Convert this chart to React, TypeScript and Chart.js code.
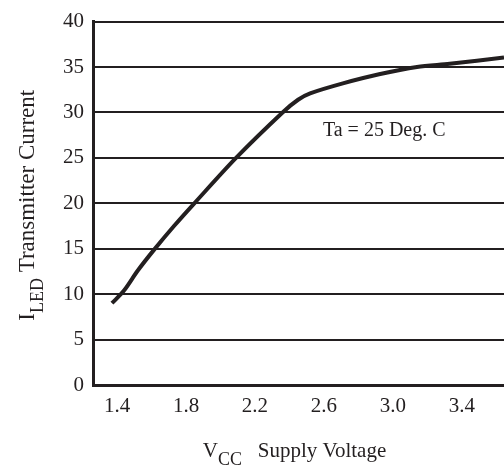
import React, { useEffect, useRef } from 'react';
import { Chart, registerables } from 'chart.js';

Chart.register(...registerables);

// Supply voltage (V) along the curve
const voltage = [1.37, 1.44, 1.52, 1.615, 1.73, 1.848, 2.09, 2.36, 2.45, 2.52, 2.71, 2.92, 3.14, 3.33, 3.645];
// Transmitter current (mA)
const current = [9.0, 10.4, 12.6, 14.9, 17.5, 20.0, 25.0, 30.0, 31.4, 32.1, 33.2, 34.2, 35.0, 35.35, 36.05];

const xTickValues = [1.4, 1.8, 2.2, 2.6, 3.0, 3.4];
const xMin = 1.26;
const xMax = 3.645;
const yMin = 0;
const yMax = 40;
const yStep = 5;

const annotationText = 'Ta = 25 Deg. C';
const annotationX = 2.95;
const annotationY = 27.4;

const xTitleParts = [
  { text: 'V', sub: false },
  { text: 'CC', sub: true },
  { text: '   Supply Voltage', sub: false },
];
const yTitleParts = [
  { text: 'I', sub: false },
  { text: 'LED', sub: true },
  { text: ' Transmitter Current', sub: false },
];

const INK = '#231f20';
const FONT = "'Liberation Serif', 'Times New Roman', serif";

function drawParts(ctx: CanvasRenderingContext2D, parts: { text: string; sub: boolean }[], mainSize: number, subSize: number, subDrop: number) {
  const widths = parts.map((p) => {
    ctx.font = `${p.sub ? subSize : mainSize}px ${FONT}`;
    return ctx.measureText(p.text).width;
  });
  const total = widths.reduce((a, b) => a + b, 0);
  let x = -total / 2;
  parts.forEach((p, i) => {
    ctx.font = `${p.sub ? subSize : mainSize}px ${FONT}`;
    ctx.fillText(p.text, x, p.sub ? subDrop : 0);
    x += widths[i];
  });
}

const overlayPlugin = {
  id: 'overlay',
  afterDraw(chart: any) {
    const { ctx, chartArea, scales } = chart;
    ctx.save();
    ctx.fillStyle = INK;
    ctx.textBaseline = 'alphabetic';
    ctx.textAlign = 'left';
    // annotation
    ctx.font = `20px ${FONT}`;
    const ax = scales.x.getPixelForValue(annotationX);
    const ay = scales.y.getPixelForValue(annotationY);
    const w = ctx.measureText(annotationText).width;
    ctx.fillText(annotationText, ax - w / 2, ay);
    // x title
    ctx.save();
    ctx.translate((chartArea.left + chartArea.right) / 2 - 4, chartArea.bottom + 72);
    drawParts(ctx, xTitleParts, 21, 18, 8);
    ctx.restore();
    // y title
    ctx.save();
    ctx.translate(34, (chartArea.top + chartArea.bottom) / 2 + 2);
    ctx.rotate(-Math.PI / 2);
    drawParts(ctx, yTitleParts, 23, 18, 9);
    ctx.restore();
    ctx.restore();
  },
};

export default function App() {
  const ref = useRef<HTMLCanvasElement | null>(null);
  useEffect(() => {
    if (!ref.current) return;
    const chart = new Chart(ref.current, {
      type: 'line',
      data: {
        datasets: [
          {
            data: voltage.map((v, i) => ({ x: v, y: current[i] })),
            borderColor: INK,
            borderWidth: 4,
            pointRadius: 0,
            fill: false,
            tension: 0.3,
          },
        ],
      },
      options: {
        animation: false,
        responsive: false,
        devicePixelRatio: 1,
        layout: { padding: { top: 17, right: 0, left: 0, bottom: 0 } },
        plugins: { legend: { display: false }, tooltip: { enabled: false } },
        scales: {
          x: {
            type: 'linear',
            min: xMin,
            max: xMax,
            afterBuildTicks: (scale: any) => {
              scale.ticks = xTickValues.map((v) => ({ value: v }));
            },
            afterFit: (scale: any) => {
              scale.height = 85;
            },
            grid: { drawOnChartArea: false, drawTicks: false },
            border: { display: true, color: INK, width: 3 },
            ticks: {
              color: INK,
              font: { family: FONT, size: 21 },
              padding: 9,
              maxRotation: 0,
              autoSkip: false,
              callback: (v: any) => Number(v).toFixed(1),
            },
          },
          y: {
            type: 'linear',
            min: yMin,
            max: yMax,
            afterFit: (scale: any) => {
              scale.width = 93;
            },
            grid: { color: INK, lineWidth: 2, drawTicks: false },
            border: { display: true, color: INK, width: 3 },
            ticks: {
              stepSize: yStep,
              color: INK,
              font: { family: FONT, size: 21 },
              padding: 9,
            },
          },
        },
      },
      plugins: [overlayPlugin],
    } as any);
    return () => chart.destroy();
  }, []);
  return (
    <div style={{ position: 'absolute', left: 0, top: 0, width: 504, height: 470, background: '#fff' }}>
      <canvas ref={ref} width={504} height={470} style={{ width: 504, height: 470, display: 'block' }} />
    </div>
  );
}
